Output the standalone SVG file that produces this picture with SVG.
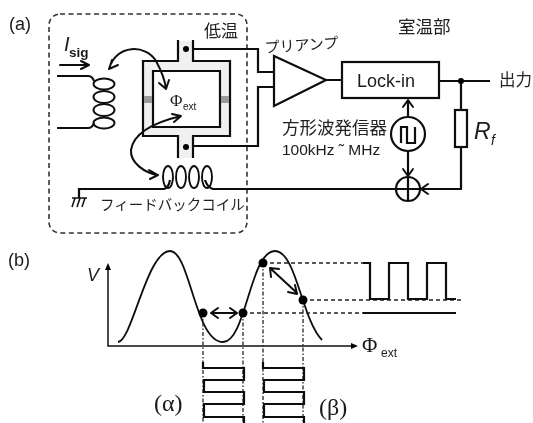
<svg xmlns="http://www.w3.org/2000/svg" width="533" height="423" viewBox="0 0 533 423">
<style>
.l{fill:none;stroke:#111;stroke-width:2.2}
.t{fill:none;stroke:#111;stroke-width:1.5}
.d{fill:none;stroke:#222;stroke-width:1.4;stroke-dasharray:4 3}
.v{fill:none;stroke:#222;stroke-width:1.3;stroke-dasharray:4 2 1.5 2}
.a{fill:none;stroke:#111;stroke-width:2;stroke-linecap:round;stroke-linejoin:round}
.dot{fill:#000}
text{font-family:"Liberation Sans","Noto Sans CJK JP",sans-serif;fill:#1a1a1a}
.j{font-family:"Noto Sans CJK JP","Liberation Sans",sans-serif;fill:#222}
.s{font-family:"Liberation Serif","Noto Sans CJK JP",serif}
</style>
<defs><filter id="b" x="0" y="0" width="100%" height="100%"><feGaussianBlur stdDeviation="0.35"/></filter></defs>
<rect width="533" height="423" fill="#fff"/>
<g filter="url(#b)">
<text x="9" y="30" font-size="18">(a)</text>
<text x="8" y="266" font-size="18">(b)</text>
<g id="cryo-box">
<rect x="49" y="14" width="198" height="219" rx="11" fill="none" stroke="#333" stroke-width="1.6" stroke-dasharray="5 3.5"/>
<text class="j" x="204" y="37" font-size="17">低温</text>
</g>
<g id="squid">
<path d="M143 61H178V41H193V61H230V136H193V158H178V136H143Z" fill="#f0f0f0"/>
<rect x="153" y="71" width="67" height="56" fill="#fff"/>
<path class="l" d="M178 40V61H143V136H178V158M193 40V61H230V136H193V158M153 103V71H220V127H153V103"/>
<rect x="144" y="96" width="8" height="7" fill="#999"/><rect x="221" y="96" width="8" height="7" fill="#999"/>
<circle class="dot" cx="186" cy="49" r="3"/><circle class="dot" cx="186" cy="147" r="3"/>
<text class="s" x="170" y="106" font-size="17">Φ</text><text x="183" y="110" font-size="10">ext</text>
</g>
<g id="input-coil">
<path class="l" d="M57 76H88C91 76 93 78 94 81M57 128H88C91 128 93 126 94 123"/>
<g fill="none" stroke="#111" stroke-width="1.9"><ellipse cx="104" cy="84" rx="10.5" ry="5.5"/><ellipse cx="104" cy="97" rx="10.5" ry="6"/><ellipse cx="104" cy="110" rx="10.5" ry="6"/><ellipse cx="104" cy="123" rx="10.5" ry="5.5"/></g>
<text x="64" y="51" font-size="20" font-style="italic">I</text><text x="69" y="57" font-size="13.5" font-weight="bold">sig</text>
<path class="a" d="M60 65H88M81 61L89 65L81 69"/>
</g>
<g id="feedback-coil">
<path class="l" d="M79 198V189H164C167 188 169 186 170 180M205 180C207 186 209 188 213 189"/>
<g fill="none" stroke="#111" stroke-width="1.9"><ellipse cx="168" cy="177" rx="5" ry="11"/><ellipse cx="181" cy="177" rx="5" ry="11"/><ellipse cx="194" cy="177" rx="5" ry="11"/><ellipse cx="207" cy="177" rx="5" ry="11"/></g>
<path class="t" d="M72 198H87M75 198L72 207M80 198L77 207M85 198L82 207"/>
<text class="j" x="100" y="210" font-size="14.5">フィードバックコイル</text>
</g>
<g id="preamp">
<path class="l" d="M274 56V106L326 80Z" fill="#fff"/>
<text class="j" x="265" y="53" font-size="15" transform="rotate(-4 265 53)">プリアンプ</text>
</g>
<g id="lockin">
<rect class="l" x="342" y="62" width="97" height="36"/>
<text x="357" y="87" font-size="18">Lock-in</text>
</g>
<g id="generator">
<circle class="l" cx="408" cy="134" r="17"/>
<path class="l" d="M401 143V127H407V143H415V127"/>
<text class="j" x="282" y="134" font-size="17.5">方形波発信器</text>
<text x="282" y="155" font-size="15.5">100kHz ˜ MHz</text>
</g>
<g id="summer">
<circle class="l" cx="408" cy="189" r="12"/>
<path class="l" d="M396 189H420M408 177V201"/>
</g>
<g id="resistor">
<rect class="l" x="455" y="110" width="12" height="37" fill="#fff"/>
<text x="474" y="139" font-size="23" font-style="italic">R</text><text x="491" y="145" font-size="14" font-style="italic">f</text>
</g>
<text class="j" x="398" y="33" font-size="17.5">室温部</text>
<text class="j" x="499" y="86" font-size="16.5">出力</text>
<g id="connectors">
<path class="l" d="M193 49H258V72H274M193 146H258V87H274M326 80H342M439 81H490M461 81V110M461 147V189H420M212 189H396"/>
<circle class="dot" cx="461" cy="81" r="3"/>
<path class="l" d="M408 117V100M408 151V176"/>
<path class="a" d="M403 107L408 100L413 107M403 169L408 176L413 169M428 184L421 189L428 194"/>
<path class="a" d="M109 69C116 44 146 44 156 61C162 72 165 80 166 89M109 69L112 60M109 69L118 65M166 89L159 83M166 89L169 80"/>
<path class="a" d="M181 116C160 121 134 130 131 150C130 163 145 173 158 175M181 116L172 114M181 116L174 122M158 175L149 170M158 175L150 179"/>
</g>
<g id="graph">
<path class="t" d="M108 266V346H355"/>
<path class="dot" d="M108 263L105 270H111ZM358 346L351 343V349Z"/>
<text x="87" y="281" font-size="18" font-style="italic">V</text>
<text class="s" x="362" y="352" font-size="21">Φ</text><text x="381" y="357" font-size="12">ext</text>
<path class="t" stroke-width="1.7" style="stroke-width:1.8" d="M118 342C132 341 147 251 170 251C190 251 195 342 223 342C246 342 250 251 275 251C296 251 302 320 322 340"/>
<path class="d" d="M243 313H363M263 263H363M303 300H462"/>
<path class="v" d="M203 313V423M243 313V423M263 263V423M303 300V423"/>
<circle class="dot" cx="203" cy="313" r="4.5"/><circle class="dot" cx="243" cy="313" r="4.5"/><circle class="dot" cx="263" cy="263" r="4.5"/><circle class="dot" cx="303" cy="300" r="4.5"/>
<path class="a" d="M212 313H236M218 308L211 313L218 318M230 308L237 313L230 318M270 268L297 293M271 277L270 268L279 269M288 292L297 294L295 285"/>
<path class="l" d="M363 263H370V299H389V263H408V299H427V263H446V299H456"/>
<path class="l" d="M363 313H456"/>
<path class="l" d="M203 362V368H244V380H204V392H244V404H204V417H244V423"/>
<path class="l" d="M263 362V368H304V380H264V392H304V404H264V417H304V423"/>
<text class="s" x="154" y="411" font-size="24">(α)</text>
<text class="s" x="319" y="415" font-size="24">(β)</text>
</g>
</g>
</svg>
